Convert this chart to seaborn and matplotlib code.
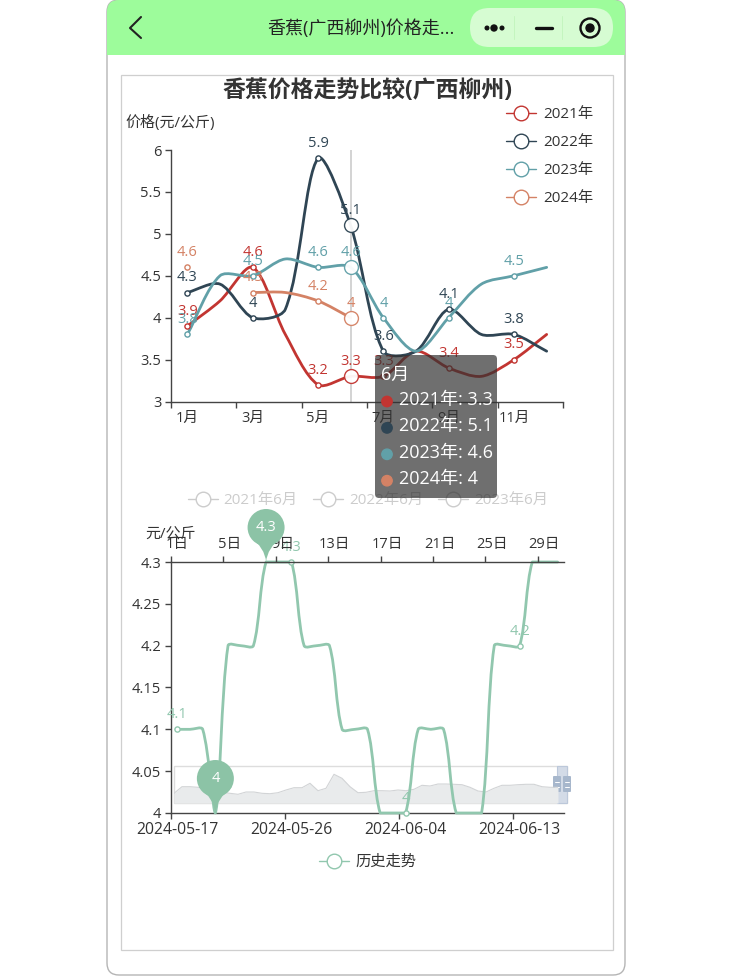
"""Banana price comparison chart (ECharts look) inside a mini-program frame."""

import numpy as np
import pandas as pd
import matplotlib
matplotlib.use("Agg")
import matplotlib.pyplot as plt
import seaborn as sns
from matplotlib.lines import Line2D
from matplotlib.path import Path
from matplotlib.patches import PathPatch, FancyBboxPatch, Circle, Rectangle

W, H = 732, 976

# ── data ─────────────────────────────────────────────────────────────
months = ["1月", "2月", "3月", "4月", "5月", "6月", "7月", "8月", "9月", "10月", "11月", "12月"]
price_2021 = [3.9, 4.2, 4.6, 3.8, 3.2, 3.3, 3.3, 3.6, 3.4, 3.3, 3.5, 3.8]
price_2022 = [4.3, 4.4, 4.0, 4.1, 5.9, 5.1, 3.6, 3.6, 4.1, 3.8, 3.8, 3.6]
price_2023 = [3.8, 4.5, 4.5, 4.7, 4.6, 4.6, 4.0, 3.6, 4.0, 4.4, 4.5, 4.6]
price_2024 = [4.6, np.nan, 4.3, 4.3, 4.2, 4.0, np.nan, np.nan, np.nan, np.nan, np.nan, np.nan]
series_names = ["2021年", "2022年", "2023年", "2024年"]
series_values = [price_2021, price_2022, price_2023, price_2024]
series_colors = ["#c23531", "#2f4554", "#61a0a8", "#d48265"]
y_ticks_top = [3, 3.5, 4, 4.5, 5, 5.5, 6]
y_labels_top = ["3", "3.5", "4", "4.5", "5", "5.5", "6"]
hover_month = 5

history_dates = ["2024-05-17", "2024-05-26", "2024-06-04", "2024-06-13"]
history_days = ["1日", "5日", "9日", "13日", "17日", "21日", "25日", "29日"]
history_price = [4.1, 4.1, 4.1, 4.0, 4.2, 4.2, 4.2, 4.3, 4.3, 4.3, 4.2, 4.2, 4.2, 4.1, 4.1, 4.1,
                 4.0, 4.0, 4.0, 4.1, 4.1, 4.1, 4.0, 4.0, 4.0, 4.2, 4.2, 4.2, 4.3, 4.3, 4.3]
y_ticks_low = [4, 4.05, 4.1, 4.15, 4.2, 4.25, 4.3]
y_labels_low = ["4", "4.05", "4.1", "4.15", "4.2", "4.25", "4.3"]
history_color = "#91c7ae"
pin_color = "#8cc3a6"
slider_shape = [9.7, 16.3, 16.3, 15.7, 14.7, 13.0, 10.7, 9.7, 8.7, 11.0, 11.0, 9.7, 9.3, 10.3, 13.0,
                15.3, 15.3, 19.7, 12.3, 14.7, 28.7, 24.7, 16.3, 10.3, 10.7, 12.3, 12.3, 12.0, 13.0,
                12.3, 13.7, 17.7, 17.0, 19.0, 19.0, 18.7, 18.3, 15.7, 12.0, 11.0, 14.7, 17.7, 17.7,
                18.3, 18.7, 18.7, 16.3, 15.7, 15.7]

tooltip_rows = [f"{n}: {v[hover_month]:g}" for n, v in zip(series_names, series_values)]
TEXT = "#333333"
AXIS = "#444444"

sns.set_theme(style="white")
plt.rcParams["font.family"] = ["Open Sans", "Noto Sans CJK SC", "DejaVu Sans"]
plt.rcParams["axes.unicode_minus"] = False

fig = plt.figure(figsize=(W / 100, H / 100), dpi=100, facecolor="white")


def px_axes(left, top, right, bottom, **kw):
    """Axes placed by pixel box of the final picture."""
    return fig.add_axes([left / W, 1 - bottom / H, (right - left) / W, (bottom - top) / H], **kw)


def style_axis(ax):
    ax.set_facecolor("none")
    for side in ["top", "right"]:
        ax.spines[side].set_visible(False)
    for side in ["left", "bottom"]:
        ax.spines[side].set_color(AXIS)
        ax.spines[side].set_linewidth(1.0)
    ax.tick_params(axis="both", which="major", length=4, width=1, color=AXIS, labelcolor=TEXT,
                   labelsize=10.5, pad=3, bottom=True, left=True)
    ax.tick_params(axis="x", which="minor", length=0, labelcolor=TEXT, labelsize=10.5, pad=6.5)


def smooth_curve(ax, xs, ys, color, clamp=None, smooth=0.3):
    """Bezier through the points, control points along (next - prev) like an ECharts smooth line."""
    pts = ax.transData.transform(np.column_stack([xs, ys]))
    n = len(pts)
    out_cp, in_cp = np.zeros((n, 2)), np.zeros((n, 2))
    for i in range(n):
        prev_p = pts[max(i - 1, 0)]
        next_p = pts[min(i + 1, n - 1)]
        v = next_p - prev_p
        len_prev = np.hypot(*(pts[i] - prev_p))
        len_next = np.hypot(*(next_p - pts[i]))
        total = len_prev + len_next
        ratio = len_next / total if total else 0.5
        out_cp[i] = pts[i] + v * smooth * ratio
        in_cp[i] = pts[i] - v * smooth * (1 - ratio)
    verts, codes = [pts[0]], [Path.MOVETO]
    for i in range(n - 1):
        verts += [out_cp[i], in_cp[i + 1], pts[i + 1]]
        codes += [Path.CURVE4] * 3
    verts = ax.transData.inverted().transform(np.array(verts))
    if clamp is not None:
        verts[:, 1] = np.clip(verts[:, 1], *clamp)
    ax.add_patch(PathPatch(Path(verts, codes), fill=False, edgecolor=color, lw=2.0,
                           capstyle="round", joinstyle="round", clip_on=False, zorder=3))


def legend_handle(color):
    return Line2D([0], [0], color=color, lw=1.0, marker="o", ms=10.5, mfc="white", mec=color, mew=1.0)


def pin(overlay, ax, x, y, label):
    """Mark point pin, tip sits on the data point."""
    tx, ty = overlay.transData.inverted().transform(ax.transData.transform((x, y)))
    r, cy = 18.5, ty - 34.5
    overlay.add_patch(Circle((tx, cy), r, facecolor=pin_color, edgecolor="none", zorder=4))
    tail = Path([(tx - r * 0.88, cy + r * 0.48), (tx - 1, cy + r + 2), (tx, ty), (tx + 1, cy + r + 2),
                 (tx + r * 0.88, cy + r * 0.48), (tx - r * 0.88, cy + r * 0.48)],
                [Path.MOVETO, Path.CURVE3, Path.CURVE3, Path.CURVE3, Path.CURVE3, Path.CLOSEPOLY])
    overlay.add_patch(PathPatch(tail, facecolor=pin_color, edgecolor="none", zorder=4))
    overlay.text(tx, cy, label, color="white", fontsize=10.5, ha="center", va="center", zorder=5)


# ── frame behind the charts ──────────────────────────────────────────
bg = fig.add_axes([0, 0, 1, 1], zorder=0)
bg.set_xlim(0, W)
bg.set_ylim(H, 0)
bg.set_axis_off()

body = FancyBboxPatch((107, 0), 518, 975, boxstyle="round,pad=0,rounding_size=12",
                      facecolor="white", edgecolor="#b5b5b5", lw=1.0)
bg.add_patch(body)
header = Rectangle((107, 0), 518, 55, facecolor="#9dfc9b", edgecolor="none")
bg.add_patch(header)
header.set_clip_path(body)
bg.add_patch(FancyBboxPatch((470, 8), 143, 39, boxstyle="round,pad=0,rounding_size=19.5",
                            facecolor="#d6fcd2", edgecolor="none"))
bg.plot([141, 130, 141], [17, 28, 38], color="#222222", lw=1.5)
bg.text(361, 29, "香蕉(广西柳州)价格走...", fontsize=13, color="#222222", ha="center", va="center")
for dot_x, dot_r in [(487, 1.8), (494, 3.0), (502, 1.8)]:
    bg.add_patch(Circle((dot_x, 28), dot_r, color="#111111"))
bg.plot([536, 552], [28, 28], color="#111111", lw=2.4, solid_capstyle="round")
bg.plot([514, 514], [16, 39], color="#c4f5bf", lw=0.7)
bg.plot([562, 562], [16, 39], color="#c4f5bf", lw=0.7)
bg.add_patch(Circle((590, 28), 9.5, facecolor="none", edgecolor="#111111", lw=1.7))
bg.add_patch(Circle((590, 28), 4, color="#111111"))
bg.add_patch(Rectangle((121, 74.5), 492, 875.5, facecolor="none", edgecolor="#cfcfcf", lw=0.9))

bg.text(367, 91, "香蕉价格走势比较(广西柳州)", fontsize=16.5, fontweight="bold", color=TEXT,
        ha="center", va="center")
bg.text(125, 122.5, "价格(元/公斤)", fontsize=10.8, color=TEXT, ha="left", va="center")
bg.text(145, 534, "元/公斤", fontsize=10.8, color=TEXT, ha="left", va="center")

top_legend = bg.legend([legend_handle(c) for c in series_colors], series_names, loc="upper left",
                       bbox_to_anchor=(506, 107), bbox_transform=bg.transData, frameon=False,
                       fontsize=11, labelcolor=TEXT, handlelength=1.96, handletextpad=0.45,
                       labelspacing=0.86, borderpad=0, borderaxespad=0)
bg.add_artist(top_legend)
off_legend = bg.legend([legend_handle("#cccccc") for _ in range(3)], ["2021年6月", "2022年6月", "2023年6月"],
                       loc="center left", bbox_to_anchor=(188, 500.5), bbox_transform=bg.transData,
                       frameon=False, fontsize=11, labelcolor="#cccccc", ncols=3, handlelength=1.96,
                       handletextpad=0.38, columnspacing=1.0, borderpad=0, borderaxespad=0)
bg.add_artist(off_legend)
bg.legend([legend_handle(history_color)], ["历史走势"], loc="center left", bbox_to_anchor=(319, 862.5),
          bbox_transform=bg.transData, frameon=False, fontsize=11, labelcolor=TEXT, handlelength=1.96,
          handletextpad=0.45, borderpad=0, borderaxespad=0)

# ── yearly comparison ────────────────────────────────────────────────
ax_top = px_axes(171, 150, 563, 401.5, zorder=1)
style_axis(ax_top)
month_pos = np.arange(len(months))
ax_top.set_xlim(-0.5, 11.5)
ax_top.set_ylim(3, 6)
ax_top.set_yticks(y_ticks_top, y_labels_top)
ax_top.set_xticks(np.arange(-0.5, 12, 2), [""] * 7)
ax_top.set_xticks(month_pos[::2], months[::2], minor=True)
ax_top.axvline(hover_month, color="#cccccc", lw=1.2, zorder=2)

for name, values, color in zip(series_names, series_values, series_colors):
    frame = pd.DataFrame({"month": month_pos, "price": values})
    # 2024 is split by gaps, every run gets its own curve
    run_id = frame["price"].isna().cumsum()
    for _, run in frame.dropna().groupby(run_id):
        if len(run) > 1:
            smooth_curve(ax_top, run["month"].to_numpy(), run["price"].to_numpy(), color)
    shown = frame.dropna()
    small = shown[(shown["month"] % 2 == 0)]
    big = shown[shown["month"] == hover_month]
    sns.scatterplot(data=small, x="month", y="price", ax=ax_top, s=14, color="white", edgecolor=color,
                    linewidth=1.0, zorder=4, clip_on=False, legend=False)
    sns.scatterplot(data=big, x="month", y="price", ax=ax_top, s=100, color="white", edgecolor=color,
                    linewidth=1.0, alpha=0.95, zorder=4, clip_on=False, legend=False)
    for row in pd.concat([small, big]).itertuples():
        ax_top.annotate(f"{row.price:g}", (row.month, row.price), xytext=(0, 10.5), textcoords="offset points",
                        ha="center", va="center", fontsize=10.5, color=color, zorder=5)
ax_top.set_xlabel("")
ax_top.set_ylabel("")

# ── history ──────────────────────────────────────────────────────────
ax_low = px_axes(171, 562, 564, 813, zorder=1)
style_axis(ax_low)
day_pos = np.arange(len(history_price))
ax_low.set_xlim(-0.5, 30.5)
ax_low.set_ylim(4, 4.3)
ax_low.set_yticks(y_ticks_low, y_labels_low)
ax_low.set_xticks(np.arange(-0.5, 31, 9), [""] * 4)
ax_low.set_xticks(day_pos[::9], history_dates, minor=True)
ax_low.tick_params(axis="x", which="minor", labelsize=11.3)

ax_days = ax_low.twiny()
ax_days.set_facecolor("none")
ax_days.set_xlim(-0.5, 29.5)
ax_days.set_xticks(np.arange(-0.5, 30, 4), [""] * 8)
ax_days.set_xticks(np.arange(0, 30, 4), history_days, minor=True)
ax_days.tick_params(axis="x", which="major", length=4, width=1, color=AXIS, top=True, bottom=False)
ax_days.tick_params(axis="x", which="minor", length=0, labelcolor=TEXT, labelsize=10.5, pad=7.5)
for side in ["left", "right", "bottom"]:
    ax_days.spines[side].set_visible(False)
ax_days.spines["top"].set_color(AXIS)
ax_days.spines["top"].set_linewidth(1.0)

# slider drawn under the line
ax_slider = px_axes(174, 766, 558, 803, zorder=0.5)
ax_slider.set_axis_off()
slider_x = np.arange(len(slider_shape))
ax_slider.set_xlim(0, slider_x[-1])
ax_slider.set_ylim(0, 37)
ax_slider.fill_between(slider_x, slider_shape, color="#e9ebec", lw=0)
sns.lineplot(x=slider_x, y=slider_shape, ax=ax_slider, color="#d2d4d6", lw=0.8)
bg.add_patch(Rectangle((174, 766), 393, 37, facecolor="none", edgecolor="#dddddd", lw=1.0))
bg.add_patch(Rectangle((557, 766), 10, 37, facecolor="#d3dbe7", edgecolor="#bcc8da", lw=0.8, zorder=3))
for handle_x in [553, 563]:
    bg.add_patch(FancyBboxPatch((handle_x, 776), 8, 16, boxstyle="round,pad=0,rounding_size=1",
                                facecolor="#a7b7cc", edgecolor="none", zorder=4))
    for dash_y in [782, 787]:
        bg.plot([handle_x + 2, handle_x + 6], [dash_y, dash_y], color="white", lw=0.7, zorder=5)

smooth_curve(ax_low, day_pos, np.array(history_price), history_color, clamp=(4.0, 4.3))
labelled = pd.DataFrame({"day": day_pos, "price": history_price}).iloc[::9]
sns.scatterplot(data=labelled, x="day", y="price", ax=ax_low, s=14, color="white", edgecolor=history_color,
                linewidth=1.0, zorder=4, clip_on=False, legend=False)
for row in labelled.itertuples():
    ax_low.annotate(f"{row.price:g}", (row.day, row.price), xytext=(0, 10.5), textcoords="offset points",
                    ha="center", va="center", fontsize=10.5, color=history_color, zorder=5,
                    annotation_clip=False)
ax_low.set_xlabel("")
ax_low.set_ylabel("")

# ── overlay: pins and tooltip ────────────────────────────────────────
overlay = fig.add_axes([0, 0, 1, 1], zorder=5)
overlay.set_xlim(0, W)
overlay.set_ylim(H, 0)
overlay.set_axis_off()
overlay.patch.set_alpha(0)

low_values = np.array(history_price)
pin(overlay, ax_low, int(np.argmax(low_values)), low_values.max(), f"{low_values.max():g}")
pin(overlay, ax_low, int(np.argmin(low_values)), low_values.min(), f"{low_values.min():g}")

overlay.add_patch(FancyBboxPatch((375, 355), 122, 143, boxstyle="round,pad=0,rounding_size=4",
                                 facecolor="#323232", alpha=0.7, edgecolor="none", zorder=6))
overlay.text(381, 375, months[hover_month], color="white", fontsize=13, ha="left", va="center", zorder=7)
for i, (row_text, color) in enumerate(zip(tooltip_rows, series_colors)):
    row_y = 400 + i * 26.4
    overlay.add_patch(Circle((387, row_y + 1.5), 5.2, color=color, zorder=7))
    overlay.text(399, row_y, row_text, color="white", fontsize=13, ha="left", va="center", zorder=7)

fig.savefig("out.png", dpi=100)
plt.close(fig)
